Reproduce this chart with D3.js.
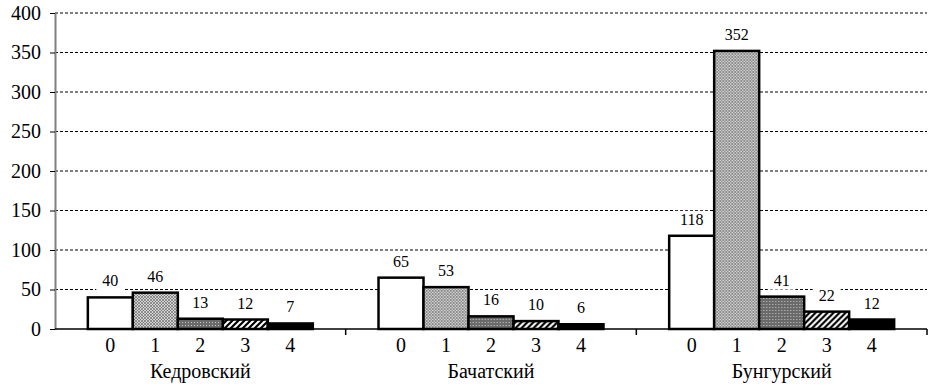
<!DOCTYPE html>
<html>
<head>
<meta charset="utf-8">
<script src="https://cdn.jsdelivr.net/npm/d3@7"></script>
<style>
  body { margin: 0; background: #fff; }
  svg { display: block; }
  svg text { font-family: "Liberation Serif", "DejaVu Serif", "Times New Roman", serif !important; }
</style>
</head>
<body>
<div id="chart"></div>
<script>
// dati del grafico
var regions = ["Кедровский", "Бачатский", "Бунгурский"];
var classes = ["0", "1", "2", "3", "4"];
var kedrovsky = [40, 46, 13, 12, 7];
var bachatsky = [65, 53, 16, 10, 6];
var bungursky = [118, 352, 41, 22, 12];
var yTicks = [0, 50, 100, 150, 200, 250, 300, 350, 400];

var series = [kedrovsky, bachatsky, bungursky];

var width = 945;
var height = 389;
var margin = {top: 13, right: 18, bottom: 60, left: 55};

var svg = d3.select("#chart")
            .append("svg")
            .attr("width", width)
            .attr("height", height);

var defs = svg.append("defs");

// riempimento 1: tratteggio incrociato fine grigio
var p1 = defs.append("pattern").attr("id", "p1")
             .attr("width", 3).attr("height", 3)
             .attr("patternUnits", "userSpaceOnUse");
p1.append("rect").attr("width", 3).attr("height", 3).attr("fill", "#d4d4d4");
p1.append("path").attr("d", "M0,3 L3,0 M-1,1 L1,-1 M2,4 L4,2 M0,0 L3,3 M-1,2 L1,4 M2,-1 L4,1")
  .attr("stroke", "#5e5e5e").attr("stroke-width", 0.6);

// riempimento 2: grigio scuro con puntini
var p2 = defs.append("pattern").attr("id", "p2")
             .attr("width", 3).attr("height", 3)
             .attr("patternUnits", "userSpaceOnUse");
p2.append("rect").attr("width", 3).attr("height", 3).attr("fill", "#6a6a6a");
p2.append("rect").attr("x", 1).attr("y", 1).attr("width", 1).attr("height", 1).attr("fill", "#c8c8c8");

// riempimento 3: righe diagonali
var p3 = defs.append("pattern").attr("id", "p3")
             .attr("width", 6).attr("height", 6)
             .attr("patternUnits", "userSpaceOnUse");
p3.append("rect").attr("width", 6).attr("height", 6).attr("fill", "#fff");
p3.append("path").attr("d", "M0,6 L6,0 M-3,3 L3,-3 M3,9 L9,3")
  .attr("stroke", "#000").attr("stroke-width", 2.2);

var fills = ["#fff", "url(#p1)", "url(#p2)", "url(#p3)", "#000"];

var x0 = d3.scaleBand()
           .domain(regions)
           .range([margin.left, width - margin.right]);

var x1 = d3.scaleBand()
           .domain(classes)
           .range([0, x0.bandwidth()])
           .paddingOuter(0.73)
           .paddingInner(0);

var y = d3.scaleLinear()
          .domain([0, 400])
          .range([height - margin.bottom, margin.top]);

// griglia tratteggiata
svg.append("g")
   .selectAll("line")
   .data(yTicks.slice(1))
   .enter()
   .append("line")
   .attr("x1", margin.left)
   .attr("x2", width - margin.right)
   .attr("y1", d => y(d))
   .attr("y2", d => y(d))
   .attr("stroke", "#000")
   .attr("stroke-width", 1)
   .attr("stroke-dasharray", "3,2");

// asse y
var yAxis = svg.append("g")
               .attr("transform", `translate(${margin.left},0)`)
               .call(d3.axisLeft(y).tickValues(yTicks).tickSize(5).tickSizeOuter(0));
yAxis.select(".domain").attr("stroke", "#808080").attr("stroke-width", 2);
yAxis.selectAll(".tick line").attr("stroke", "#000");
yAxis.selectAll(".tick text")
     .attr("font-size", 20)
     .attr("fill", "#000")
     .attr("x", -14);

// barre
var groups = svg.append("g")
                .selectAll("g")
                .data(regions)
                .enter()
                .append("g")
                .attr("transform", d => `translate(${x0(d)},0)`);

groups.selectAll("rect")
      .data((d, i) => series[i].map((v, j) => ({k: classes[j], v: v})))
      .enter()
      .append("rect")
      .attr("x", d => x1(d.k))
      .attr("y", d => y(d.v))
      .attr("width", x1.bandwidth())
      .attr("height", d => y(0) - y(d.v))
      .attr("fill", (d, j) => fills[j])
      .attr("stroke", "#000")
      .attr("stroke-width", 2.5);

// etichette dei valori con sfondo bianco
var labels = groups.selectAll("g.lab")
                   .data((d, i) => series[i].map((v, j) => ({k: classes[j], v: v})))
                   .enter()
                   .append("g")
                   .classed("lab", true)
                   .attr("transform", d => `translate(${x1(d.k) + x1.bandwidth() / 2},${y(d.v) - 11})`);

labels.append("rect")
      .attr("x", d => -String(d.v).length * 4 - 6)
      .attr("y", -14)
      .attr("width", d => String(d.v).length * 8 + 12)
      .attr("height", 18)
      .attr("fill", "#fff");

labels.append("text")
      .attr("text-anchor", "middle")
      .attr("font-size", 16)
      .attr("fill", "#000")
      .text(d => d.v);

// asse x
svg.append("line")
   .attr("x1", margin.left)
   .attr("x2", width - margin.right)
   .attr("y1", y(0))
   .attr("y2", y(0))
   .attr("stroke", "#000")
   .attr("stroke-width", 1.5);

svg.append("g")
   .selectAll("line")
   .data(regions.slice(1).concat(["end"]))
   .enter()
   .append("line")
   .attr("x1", d => d == "end" ? width - margin.right : x0(d))
   .attr("x2", d => d == "end" ? width - margin.right : x0(d))
   .attr("y1", y(0))
   .attr("y2", y(0) + 6)
   .attr("stroke", "#000")
   .attr("stroke-width", 1.5);

// etichette delle classi
groups.selectAll("text.cls")
      .data(classes)
      .enter()
      .append("text")
      .classed("cls", true)
      .attr("x", d => x1(d) + x1.bandwidth() / 2)
      .attr("y", y(0) + 23)
      .attr("text-anchor", "middle")
      .attr("font-size", 20)
      .text(d => d);

// nomi delle zone
groups.append("text")
      .attr("x", x0.bandwidth() / 2)
      .attr("y", y(0) + 49)
      .attr("text-anchor", "middle")
      .attr("font-size", 20)
      .text(d => d);
</script>
</body>
</html>
